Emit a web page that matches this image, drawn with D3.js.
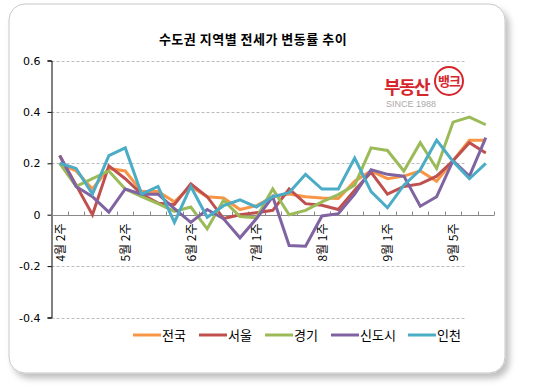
<!DOCTYPE html>
<html>
<head>
<meta charset="utf-8">
<script src="https://cdn.jsdelivr.net/npm/d3@7"></script>
<style>
  body { margin: 0; background: #fff; }
  svg text { font-family: "Noto Sans CJK KR", "Noto Sans", sans-serif; }
</style>
</head>
<body>
<div id="chart"></div>
<script>
// weekly categories (27 weeks), only every 4th one gets a label
var weeks = d3.range(27);
var week_labels = {0: "4월 2주", 4: "5월 2주", 8: "6월 2주", 12: "7월 1주", 16: "8월 1주", 20: "9월 1주", 24: "9월 5주"};

var series_names = ["전국", "서울", "경기", "신도시", "인천"];
var series_colors = ["#F79646", "#C0504D", "#9BBB59", "#8064A2", "#4BACC6"];

var nation   = [0.20, 0.17, 0.10, 0.18, 0.17, 0.09, 0.09, 0.05, 0.11, 0.07, 0.065, 0.02, 0.035, 0.07, 0.08, 0.07, 0.065, 0.063, 0.13, 0.17, 0.14, 0.15, 0.17, 0.13, 0.21, 0.29, 0.29];
var seoul    = [0.23, 0.115, 0.0, 0.19, 0.14, 0.08, 0.045, 0.04, 0.12, 0.07, -0.015, 0.0, 0.008, 0.017, 0.10, 0.043, 0.037, 0.02, 0.095, 0.165, 0.08, 0.11, 0.12, 0.15, 0.21, 0.28, 0.24];
var gyeonggi = [0.20, 0.11, 0.14, 0.17, 0.10, 0.07, 0.043, 0.013, 0.03, -0.055, 0.056, -0.007, -0.012, 0.10, 0.0, 0.017, 0.05, 0.078, 0.115, 0.26, 0.25, 0.17, 0.28, 0.18, 0.36, 0.38, 0.35];
var newtown  = [0.23, 0.11, 0.07, 0.01, 0.10, 0.08, 0.08, 0.024, -0.03, 0.02, -0.016, -0.09, -0.016, 0.07, -0.12, -0.123, -0.005, 0.004, 0.08, 0.175, 0.157, 0.15, 0.033, 0.07, 0.21, 0.15, 0.30];
var incheon  = [0.20, 0.18, 0.08, 0.23, 0.26, 0.08, 0.11, -0.03, 0.11, -0.01, 0.035, 0.058, 0.03, 0.07, 0.086, 0.157, 0.10, 0.10, 0.22, 0.09, 0.027, 0.115, 0.175, 0.29, 0.207, 0.14, 0.20];

var y_ticks = [0.6, 0.4, 0.2, 0, -0.2, -0.4];

var W = 554, H = 390;
var svg = d3.select("#chart").append("svg")
    .attr("width", W)
    .attr("height", H);

// card shadow + card
var defs = svg.append("defs");
var f = defs.append("filter").attr("id", "shadow")
    .attr("x", "-5%").attr("y", "-5%").attr("width", "115%").attr("height", "115%");
f.append("feDropShadow").attr("dx", 4).attr("dy", 5).attr("stdDeviation", 3)
    .attr("flood-color", "#000").attr("flood-opacity", 0.25);

svg.append("rect")
    .attr("x", 9).attr("y", 4).attr("width", 496).attr("height", 369)
    .attr("rx", 16).attr("ry", 16)
    .style("fill", "#fff").style("stroke", "#c8c8c8").style("stroke-width", 1)
    .attr("filter", "url(#shadow)");

// title
svg.append("text")
    .attr("x", 253).attr("y", 44)
    .attr("text-anchor", "middle")
    .style("font-size", "13px").style("font-weight", "bold")
    .style("letter-spacing", "0.5px")
    .text("수도권 지역별 전세가 변동률 추이");

var x0 = 51.5, x1 = 494;
var x = d3.scaleBand().domain(weeks).range([x0, x1]);
var y = d3.scaleLinear().domain([-0.4, 0.6]).range([317.5, 60.5]);

// grid lines
svg.selectAll(".grid").data(y_ticks.filter(function(d) { return d != 0; }))
    .enter().append("line")
    .attr("x1", x0).attr("x2", x1 - 28)
    .attr("y1", function(d) { return Math.round(y(d)) + 0.5; })
    .attr("y2", function(d) { return Math.round(y(d)) + 0.5; })
    .style("stroke", "#bbb").style("stroke-dasharray", "3,2");

// y axis
var yAxis = d3.axisLeft(y).tickValues(y_ticks).tickSize(4)
    .tickFormat(function(d) { return d == 0 ? "0" : d3.format(".1f")(d).replace("−", "-"); });
var ya = svg.append("g").attr("transform", "translate(" + x0 + ",0)").call(yAxis);
ya.select(".domain").style("stroke", "#000");
ya.selectAll(".tick line").style("stroke", "#000");
ya.selectAll(".tick text").attr("x", -11).style("font-size", "11px").style("fill", "#000")
    .style("font-family", "'DejaVu Sans', sans-serif");

// zero line with category ticks above it
var z = Math.round(y(0)) + 0.5;
svg.append("line").attr("x1", x0).attr("x2", x1).attr("y1", z).attr("y2", z)
    .style("stroke", "#888").style("stroke-width", 1.2);
svg.selectAll(".xtick").data(weeks.concat([27]))
    .enter().append("line")
    .attr("x1", function(d) { return Math.round(x0 + d * x.step()) + 0.5; })
    .attr("x2", function(d) { return Math.round(x0 + d * x.step()) + 0.5; })
    .attr("y1", z - 4).attr("y2", z)
    .style("stroke", "#888");

// rotated week labels
svg.selectAll(".xlab").data(weeks.filter(function(d) { return week_labels[d]; }))
    .enter().append("text")
    .attr("transform", function(d) {
        return "translate(" + (x(d) + x.bandwidth() / 2 + 5) + "," + (z + 8) + ") rotate(-90)";
    })
    .attr("text-anchor", "end")
    .style("font-size", "12px")
    .text(function(d) { return week_labels[d]; });

// logo
var logo = svg.append("g");
logo.append("text").attr("x", 384).attr("y", 94)
    .style("font-size", "18px").style("font-weight", "bold").style("fill", "#d7262b")
    .style("letter-spacing", "-1.5px")
    .text("부동산");
logo.append("circle").attr("cx", 449).attr("cy", 81).attr("r", 14)
    .style("fill", "#fff").style("stroke", "#d7262b").style("stroke-width", 2);
logo.append("text").attr("x", 449).attr("y", 86).attr("text-anchor", "middle")
    .style("font-size", "13px").style("font-weight", "bold").style("fill", "#d7262b")
    .style("letter-spacing", "-1px")
    .text("뱅크");
logo.append("text").attr("x", 386).attr("y", 107)
    .style("font-size", "9px").style("fill", "#aaa")
    .style("font-family", "'Liberation Sans', sans-serif")
    .text("SINCE 1988");

// lines
var all_series = [nation, seoul, gyeonggi, newtown, incheon];
var line = d3.line()
    .x(function(d, i) { return x(i) + x.bandwidth() / 2; })
    .y(function(d) { return y(d); });

svg.selectAll(".series").data(all_series)
    .enter().append("path")
    .attr("d", line)
    .style("fill", "none")
    .style("stroke", function(d, i) { return series_colors[i]; })
    .style("stroke-width", 3)
    .style("stroke-linejoin", "miter");

// legend
var legend_x = [133, 199, 265, 331, 408];
var lg = svg.selectAll(".legend").data(series_names)
    .enter().append("g")
    .attr("transform", function(d, i) { return "translate(" + legend_x[i] + ",335)"; });
lg.append("line").attr("x1", 0).attr("x2", 28).attr("y1", 0).attr("y2", 0)
    .style("stroke", function(d, i) { return series_colors[i]; })
    .style("stroke-width", 3);
lg.append("text").attr("x", 29).attr("y", 5)
    .style("font-size", "13px")
    .text(function(d) { return d; });
</script>
</body>
</html>
